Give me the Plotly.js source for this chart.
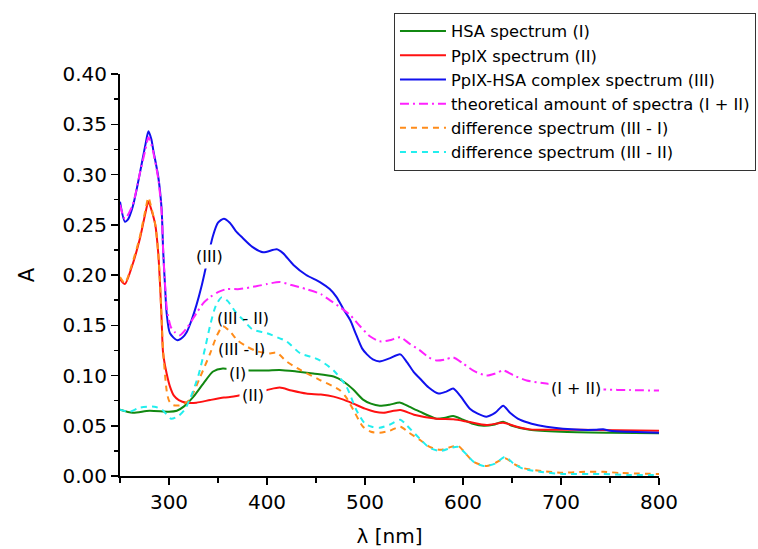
<!DOCTYPE html>
<html>
<head>
<meta charset="utf-8">
<script src="https://cdn.plot.ly/plotly-3.0.1.min.js"></script>
<style>
  html, body { margin: 0; padding: 0; background: #fff; }
  #chart { width: 758px; height: 549px; }
</style>
</head>
<body>
<div id="chart"></div>
<script>
// Absorption spectra: wavelength (nm) and absorbance A for each series

// HSA spectrum (I)
const hsaNm = [250, 263, 280, 300, 308, 315, 325, 335, 345, 355, 365, 383, 400, 413, 430, 447, 468, 478, 488, 498, 506, 515, 525, 536, 545, 556, 573, 582, 590, 600, 610, 621, 631, 641, 650, 668, 700, 750, 800];
const hsaA  = [0.066, 0.063, 0.065, 0.064, 0.065, 0.069, 0.079, 0.092, 0.104, 0.107, 0.106, 0.105, 0.105, 0.1055, 0.104, 0.102, 0.099, 0.094, 0.086, 0.076, 0.072, 0.070, 0.071, 0.073, 0.069, 0.064, 0.057, 0.058, 0.0597, 0.056, 0.052, 0.050, 0.051, 0.054, 0.050, 0.046, 0.044, 0.043, 0.0425];

// PpIX spectrum (II)
const ppixNm = [250, 255, 262, 270, 276, 279, 282, 286, 289, 291, 292.5, 294, 297.6, 301, 305, 310, 318, 328, 342, 356, 366, 380, 400, 413, 425, 440, 455, 468, 478, 488, 500, 510, 519, 536, 550, 573, 590, 605, 624, 641, 655, 668, 700, 736, 800];
const ppixA  = [0.196, 0.191, 0.208, 0.235, 0.262, 0.273, 0.265, 0.250, 0.222, 0.188, 0.155, 0.122, 0.102, 0.089, 0.080, 0.0756, 0.073, 0.073, 0.0756, 0.078, 0.079, 0.082, 0.0856, 0.088, 0.085, 0.082, 0.081, 0.079, 0.076, 0.072, 0.067, 0.064, 0.063, 0.0657, 0.061, 0.057, 0.0564, 0.054, 0.0507, 0.053, 0.049, 0.0464, 0.046, 0.0458, 0.045];

// PpIX-HSA complex spectrum (III)
const complexNm = [250, 255, 258, 263, 268, 272, 276, 279, 282, 284, 289, 292.5, 294, 296, 297.6, 301, 308.5, 314, 318, 323, 328, 333, 337, 344.6, 350, 356, 362, 368, 374, 385, 396, 410, 416, 427, 440, 454, 464, 471, 478, 485, 490, 497, 502, 508, 515, 525, 536, 543, 550, 556, 565, 575, 583, 590, 597, 607, 615, 624, 633, 641, 648, 658, 670, 685, 702, 720, 735, 743, 750, 770, 800];
const complexA  = [0.273, 0.253, 0.255, 0.268, 0.290, 0.310, 0.330, 0.343, 0.335, 0.324, 0.298, 0.265, 0.225, 0.188, 0.162, 0.142, 0.135, 0.138, 0.143, 0.155, 0.170, 0.188, 0.205, 0.238, 0.252, 0.256, 0.252, 0.244, 0.238, 0.228, 0.2226, 0.2256, 0.222, 0.210, 0.200, 0.193, 0.186, 0.178, 0.166, 0.155, 0.143, 0.127, 0.121, 0.116, 0.114, 0.117, 0.121, 0.113, 0.103, 0.097, 0.088, 0.082, 0.084, 0.087, 0.080, 0.067, 0.062, 0.059, 0.063, 0.070, 0.063, 0.056, 0.052, 0.049, 0.047, 0.046, 0.046, 0.0465, 0.045, 0.044, 0.043];

// Theoretical sum of spectra (I + II)
const sumNm = [250, 255, 263, 270, 276, 279, 282, 284, 289, 292.5, 294, 296, 298, 302, 306, 311, 318, 328, 335, 342, 350, 359, 372, 390, 400, 413, 425, 440, 455, 464, 474.5, 485, 495, 505, 515, 525, 536, 545, 556, 565, 573, 582, 590, 600, 612, 624, 633, 641, 652, 665, 685, 710, 746, 770, 800];
const sumA  = [0.270, 0.256, 0.270, 0.300, 0.325, 0.337, 0.330, 0.322, 0.296, 0.262, 0.225, 0.190, 0.165, 0.148, 0.143, 0.140, 0.147, 0.162, 0.172, 0.178, 0.183, 0.186, 0.186, 0.189, 0.191, 0.193, 0.190, 0.186, 0.181, 0.175, 0.168, 0.160, 0.149, 0.139, 0.134, 0.135, 0.138, 0.132, 0.125, 0.118, 0.115, 0.116, 0.118, 0.112, 0.104, 0.100, 0.102, 0.105, 0.100, 0.095, 0.092, 0.089, 0.086, 0.0855, 0.085];

// Difference spectrum (III - I)
const diff1Nm = [250, 255, 262, 270, 276, 279, 282, 286, 289, 291, 292.5, 294, 297.6, 300, 304, 313, 321, 332, 342, 349, 355, 362, 370, 379, 390, 403, 410, 420, 434, 454, 474, 481, 488, 498, 506, 515, 525, 536, 545, 556, 566, 577, 588, 595, 603, 611, 624, 633, 643, 652, 662, 680, 702, 720, 743, 760, 800];
const diff1A  = [0.198, 0.192, 0.210, 0.237, 0.265, 0.277, 0.267, 0.250, 0.222, 0.188, 0.155, 0.125, 0.085, 0.075, 0.0706, 0.0706, 0.076, 0.099, 0.122, 0.140, 0.149, 0.144, 0.135, 0.129, 0.124, 0.122, 0.1227, 0.114, 0.1055, 0.0955, 0.0856, 0.078, 0.066, 0.049, 0.044, 0.043, 0.045, 0.049, 0.043, 0.036, 0.029, 0.026, 0.029, 0.030, 0.022, 0.014, 0.010, 0.013, 0.0176, 0.012, 0.0077, 0.005, 0.0033, 0.004, 0.0043, 0.003, 0.002];

// Difference spectrum (III - II)
const diff2Nm = [250, 260, 270, 285, 293, 302, 310, 316, 322, 330, 337, 342, 348, 354, 360, 368, 376, 385, 400, 413, 420, 434, 447, 454, 468, 481, 491, 500, 507, 515, 525, 536, 543, 556, 566, 577, 588, 595, 605, 611, 621, 632, 643, 652, 662, 680, 702, 740, 770, 800];
const diff2A  = [0.066, 0.064, 0.068, 0.069, 0.066, 0.057, 0.060, 0.066, 0.078, 0.100, 0.128, 0.150, 0.170, 0.178, 0.174, 0.163, 0.155, 0.146, 0.142, 0.137, 0.134, 0.122, 0.118, 0.115, 0.105, 0.089, 0.066, 0.052, 0.049, 0.048, 0.051, 0.056, 0.050, 0.037, 0.028, 0.025, 0.028, 0.029, 0.020, 0.014, 0.010, 0.012, 0.019, 0.012, 0.007, 0.004, 0.002, 0.002, 0.001, 0.001];

// Curve labels placed on the plot
const labelText = ['(III)', '(III - II)', '(III - I)', '(I)', '(II)', '(I + II)'];
const labelNm   = [341.8, 375, 373.5, 370, 385.5, 715];
const labelA    = [0.218, 0.157, 0.126, 0.102, 0.0806, 0.0873];
const labelMask = [true, false, false, true, true, true];

const FONT = '"DejaVu Sans", Arial, sans-serif';

function spectrum(name, x, y, color, width, dash) {
  return {
    type: 'scatter', mode: 'lines', name: name, x: x, y: y,
    line: { color: color, width: width, dash: dash, shape: 'spline', smoothing: 0.7 }
  };
}

const traces = [
  spectrum('HSA spectrum (I)', hsaNm, hsaA, '#118811', 2, 'solid'),
  spectrum('PpIX spectrum (II)', ppixNm, ppixA, '#ff1111', 2, 'solid'),
  spectrum('PpIX-HSA complex spectrum (III)', complexNm, complexA, '#1111ee', 2, 'solid'),
  spectrum('theoretical amount of spectra (I + II)', sumNm, sumA, '#ff22ff', 2, '9px,4px,2px,4px'),
  spectrum('difference spectrum (III - I)', diff1Nm, diff1A, '#ff8c1a', 2, '6px,5px'),
  spectrum('difference spectrum (III - II)', diff2Nm, diff2A, '#22eeee', 2, '6px,5px')
];

const annotations = labelText.map((t, i) => ({
  x: labelNm[i], y: labelA[i], xref: 'x', yref: 'y',
  text: t, showarrow: false,
  font: { family: FONT, size: 16, color: '#000' },
  bgcolor: labelMask[i] ? '#ffffff' : 'rgba(0,0,0,0)',
  borderpad: 2
}));

const axisCommon = {
  showgrid: false, zeroline: false,
  showline: true, linecolor: '#000', linewidth: 2,
  ticks: 'outside', ticklen: 7, tickwidth: 1.5, tickcolor: '#000',
  tickfont: { family: FONT, size: 20, color: '#000' },
  mirror: false
};

const layout = {
  width: 758, height: 549,
  margin: { l: 120, r: 99, t: 74, b: 73, autoexpand: false },
  paper_bgcolor: '#fff', plot_bgcolor: '#fff',
  font: { family: FONT, color: '#000' },
  showlegend: true,
  legend: {
    x: 0.5083, xanchor: 'left', y: 1.1517, yanchor: 'top',
    bgcolor: '#fff', bordercolor: '#333', borderwidth: 1,
    font: { family: FONT, size: 16.3, color: '#000' },
    itemwidth: 46, tracegroupgap: 0
  },
  xaxis: Object.assign({}, axisCommon, {
    range: [250, 800], tick0: 300, dtick: 100,
    minor: { dtick: 50, ticks: 'outside', ticklen: 5, tickwidth: 1.5, tickcolor: '#000' },
    title: { text: 'λ [nm]', font: { family: FONT, size: 20, color: '#000' }, standoff: 16 }
  }),
  yaxis: Object.assign({}, axisCommon, {
    range: [0, 0.40], tick0: 0, dtick: 0.05, tickformat: '.2f',
    minor: { dtick: 0.025, ticks: 'outside', ticklen: 4, tickwidth: 1.5, tickcolor: '#000' },
    title: { text: 'A', font: { family: FONT, size: 21, color: '#000' }, standoff: 22 }
  }),
  annotations: annotations
};

Plotly.newPlot('chart', traces, layout, { displayModeBar: false, staticPlot: true });
</script>
</body>
</html>
